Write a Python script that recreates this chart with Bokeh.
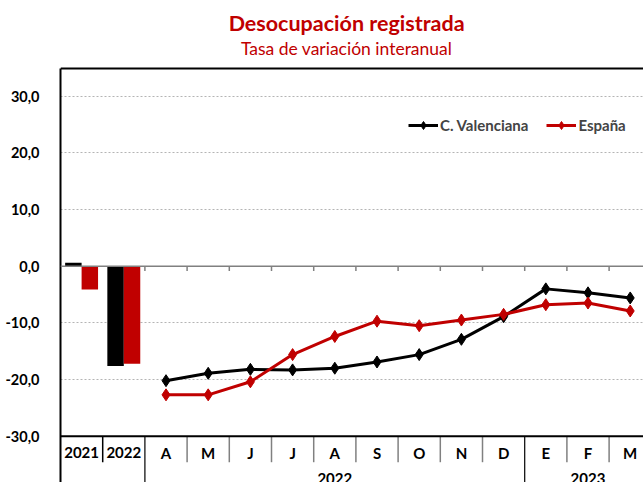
import numpy as np
from bokeh.plotting import figure
from bokeh.models import (Range1d, FixedTicker, Span, Legend, LegendItem)
from bokeh.embed import file_html
from bokeh.resources import INLINE
from bokeh.core.properties import value

# ---------------- data ----------------
categories = ["2021", "2022", "A", "M", "J", "J", "A", "S", "O", "N", "D", "E", "F", "M"]
annual_cats = ["2021", "2022"]
month_years = ["2022"] * 9 + ["2023"] * 3

annual_cv = [0.6, -17.6]
annual_es = [-4.1, -17.2]
monthly_cv = [-20.2, -18.9, -18.2, -18.3, -18.0, -16.9, -15.6, -12.9, -8.9, -4.0, -4.7, -5.6]
monthly_es = [-22.7, -22.7, -20.4, -15.6, -12.4, -9.7, -10.5, -9.5, -8.5, -6.8, -6.5, -7.9]

y_ticks = [-30, -20, -10, 0, 10, 20, 30]
y_tick_labels = ["-30,0", "-20,0", "-10,0", "0,0", "10,0", "20,0", "30,0"]

series_names = ["C. Valenciana", "España"]
title_text = "Desocupación registrada"
subtitle_text = "Tasa de variación interanual"

# ---------------- style / layout ----------------
RED = "#C00000"
BLACK = "#000000"
GREY = "#808080"
FONT = "Lato"

n_cat = len(categories)
n_ann = len(annual_cats)
cat_x = np.arange(n_cat) + 0.5
ann_x = cat_x[:n_ann]
mon_x = cat_x[n_ann:]

Y_MIN, Y_MAX = -38.17, 46.89     # frame covers whole canvas vertically
Y_BORDER = 34.89                 # top border of the plot box
AX_Y = y_ticks[0]
X_END = 13.815
TITLE_X = 6.78

p = figure(width=643, height=482, x_range=Range1d(0, X_END), y_range=Range1d(Y_MIN, Y_MAX),
           output_backend="svg", toolbar_location=None, x_axis_location=None,
           min_border_left=60, min_border_right=0, min_border_bottom=0, min_border_top=0,
           outline_line_color=None, background_fill_color="white", border_fill_color="white")

# titles
p.text(x=[TITLE_X], y=[43.0], text=[title_text], text_align="center", text_baseline="middle",
       text_font=value(FONT), text_font_style="bold", text_font_size="21.5px", text_color=RED)
p.text(x=[TITLE_X], y=[38.4], text=[subtitle_text], text_align="center", text_baseline="middle",
       text_font=value(FONT), text_font_style="normal", text_font_size="17.5px", text_color=RED)

# top border
p.add_layout(Span(location=Y_BORDER, dimension="width", line_color=BLACK, line_width=2))

# y axis
ya = p.yaxis[0]
ya.bounds = (Y_MIN, Y_BORDER)
ya.ticker = FixedTicker(ticks=y_ticks)
ya.major_label_overrides = {t: l for t, l in zip(y_ticks, y_tick_labels)}
ya.major_tick_line_color = None
ya.minor_tick_line_color = None
ya.axis_line_width = 2
ya.major_label_standoff = 15
ya.major_label_text_font = FONT
ya.major_label_text_font_style = "bold"
ya.major_label_text_font_size = "14.5px"
ya.major_label_text_color = BLACK

p.xgrid.visible = False
p.ygrid.ticker = FixedTicker(ticks=[t for t in y_ticks if t not in (0, AX_Y)])
p.ygrid.grid_line_color = "#b4b4b4"
p.ygrid.grid_line_dash = "2 2"
p.ygrid.grid_line_width = 1

# zero line and bottom axis line
p.add_layout(Span(location=0, dimension="width", line_color=GREY, line_width=1.5))
p.add_layout(Span(location=AX_Y, dimension="width", line_color=BLACK, line_width=2))

# small ticks below the zero line at monthly boundaries
bnd_ticks = np.arange(n_ann, n_cat + 1)
p.segment(x0=bnd_ticks, y0=0, x1=bnd_ticks, y1=-0.85, line_color=GREY, line_width=1.5)

# bars
bw = 0.39
p.vbar(x=ann_x - 0.195, top=annual_cv, bottom=0, width=bw, fill_color=BLACK, line_color=None)
p.vbar(x=ann_x + 0.195, top=annual_es, bottom=0, width=bw, fill_color=RED, line_color=None)

# lines
l_cv = p.line(mon_x, monthly_cv, line_color=BLACK, line_width=3)
s_cv = p.scatter(mon_x, monthly_cv, marker="diamond", size=12, fill_color=BLACK, line_color=BLACK)
l_es = p.line(mon_x, monthly_es, line_color=RED, line_width=3)
s_es = p.scatter(mon_x, monthly_es, marker="diamond", size=12, fill_color=RED, line_color=RED)

# category labels row
row_h = 4.59
p.text(x=cat_x, y=AX_Y - 2.88, text=categories, text_align="center", text_baseline="middle",
       text_font=value(FONT), text_font_style="bold", text_font_size="15px", text_color=BLACK)

# group separators / labels
group_names, group_start, group_end = [], [], []
for i, yr in enumerate(month_years):
    idx = n_ann + i
    if not group_names or group_names[-1] != yr:
        group_names.append(yr)
        group_start.append(idx)
        group_end.append(idx + 1)
    else:
        group_end[-1] = idx + 1
long_b = np.array(group_start)
short_b = np.array([b for b in range(1, n_cat) if b not in group_start])
short_col = [BLACK if b < n_ann else GREY for b in short_b]
p.segment(x0=short_b, y0=AX_Y, x1=short_b, y1=AX_Y - row_h, line_color=short_col, line_width=1.5)
p.segment(x0=long_b, y0=AX_Y, x1=long_b, y1=Y_MIN - 1, line_color=BLACK, line_width=1.2)
gx = (np.array(group_start) + np.array(group_end)) / 2
p.text(x=gx, y=AX_Y - 7.45, text=group_names, text_align="center", text_baseline="middle",
       text_font=value(FONT), text_font_style="bold", text_font_size="15px", text_color=BLACK)

legend = Legend(items=[LegendItem(label=series_names[0], renderers=[l_cv, s_cv]),
                       LegendItem(label=series_names[1], renderers=[l_es, s_es])],
                location=(348, 347), orientation="horizontal", border_line_color=None,
                background_fill_alpha=0, padding=0, margin=0, spacing=18,
                glyph_width=30, glyph_height=20, label_standoff=2,
                label_text_font=FONT, label_text_font_style="bold", label_text_font_size="15px")
p.add_layout(legend)

open("out.html", "w").write(file_html(p, INLINE))
